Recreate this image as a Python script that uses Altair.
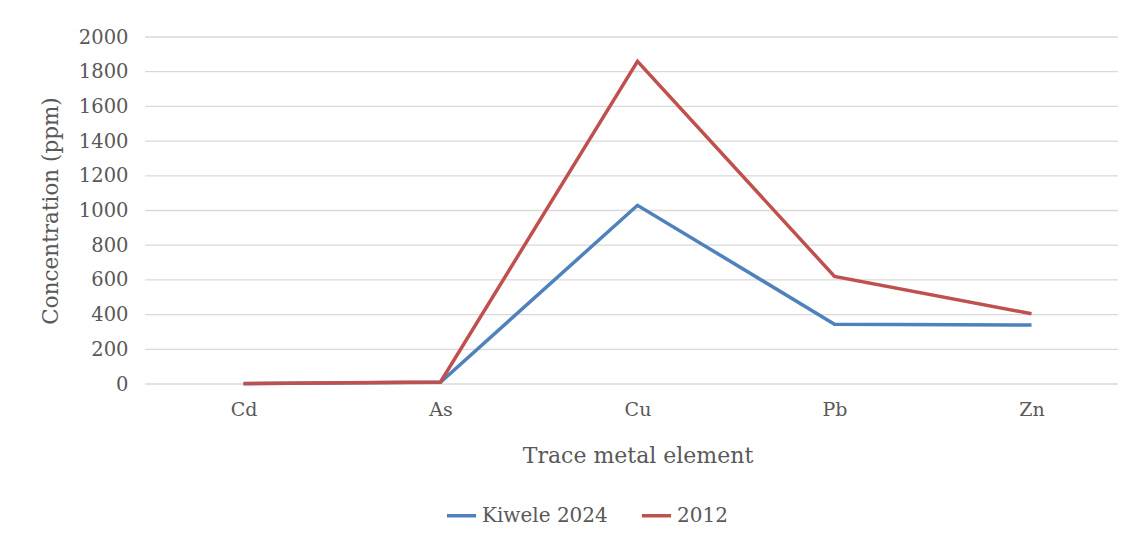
import altair as alt
import pandas as pd

elements = ["Cd", "As", "Cu", "Pb", "Zn"]
series_names = ["Kiwele 2024", "2012"]
kiwele_2024 = [2, 10, 1030, 345, 340]
y2012 = [3, 12, 1860, 620, 405]
colors = ["#4F81BD", "#C0504D"]
y_ticks = list(range(0, 2001, 200))

rows = []
for e, v in zip(elements, kiwele_2024):
    rows.append({"element": e, "value": v, "series": series_names[0]})
for e, v in zip(elements, y2012):
    rows.append({"element": e, "value": v, "series": series_names[1]})
df = pd.DataFrame(rows)
grid_df = pd.DataFrame({"value": y_ticks})

FONT = "DejaVu Serif"
TXT = "#595959"

y_enc = alt.Y("value:Q", title="Concentration (ppm)",
              scale=alt.Scale(domain=[0, 2000], nice=False),
              axis=alt.Axis(values=y_ticks, format="d", ticks=False, grid=False,
                            domain=False, labelPadding=17, titlePadding=16,
                            labelFontSize=19.5, titleFontSize=21.5))

grid = alt.Chart(grid_df).mark_rule(color="#D9D9D9", strokeWidth=1.3).encode(
    y=y_enc, x=alt.value(0), x2=alt.value(973)
)

lines = alt.Chart(df).mark_line(strokeWidth=3.5).encode(
    x=alt.X("element:N", sort=elements, title="Trace metal element",
            scale=alt.Scale(type="point", padding=0.5),
            axis=alt.Axis(labelAngle=0, ticks=False, domain=False,
                          labelPadding=16, titlePadding=26,
                          labelFontSize=19, titleFontSize=22, grid=False)),
    y=y_enc,
    color=alt.Color("series:N", sort=series_names,
                    scale=alt.Scale(domain=series_names, range=colors),
                    legend=alt.Legend(title=None, orient="none", direction="horizontal",
                                      legendX=300, legendY=462, symbolType="stroke",
                                      symbolStrokeWidth=3.5, symbolSize=850,
                                      labelFontSize=20, columnPadding=26)),
)

chart = alt.layer(grid, lines).properties(
    width=985, height=347,
    autosize=alt.AutoSizeParams(type="none"),
    padding={"left": 145, "top": 37, "right": 4, "bottom": 163},
).configure_view(stroke=None).configure_axis(
    labelFont=FONT, titleFont=FONT, labelColor=TXT, titleColor=TXT,
    titleFontWeight="normal"
).configure_legend(labelFont=FONT, labelColor=TXT)

chart.save("out.html", embed_options={"renderer": "svg", "actions": False})
